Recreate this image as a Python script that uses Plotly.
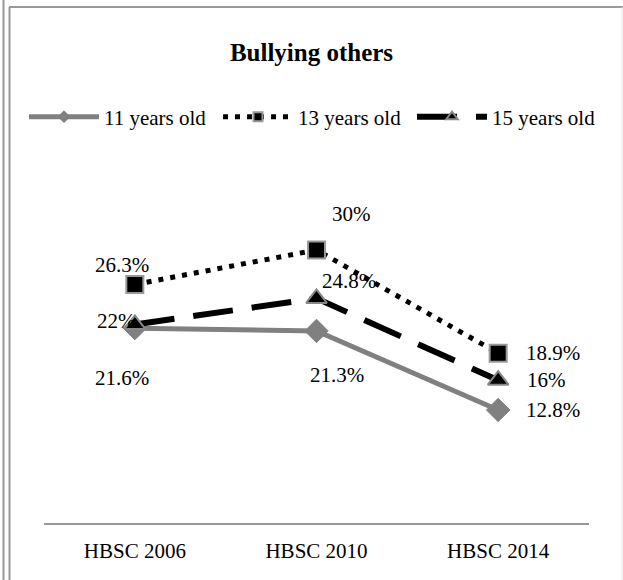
import plotly.graph_objects as go

categories = ["HBSC 2006", "HBSC 2010", "HBSC 2014"]
series_names = ["11 years old", "13 years old", "15 years old"]
age11 = [21.6, 21.3, 12.8]
age13 = [26.3, 30.0, 18.9]
age15 = [22.0, 24.8, 16.0]
labels11 = ["21.6%", "21.3%", "12.8%"]
labels13 = ["26.3%", "30%", "18.9%"]
labels15 = ["22%", "24.8%", "16%"]

FONT = "Liberation Serif, Times New Roman, serif"
W, H = 623, 580
L, R, T, B = 44, 34, 157, 57

styles = [
    dict(line=dict(color="#808080", width=5),
         marker=dict(symbol="diamond", color="#808080", line=dict(color="#808080", width=1)), size=18, lsize=9),
    dict(line=dict(color="#000000", width=5, dash="5px,7px"),
         marker=dict(symbol="square", color="#000000", line=dict(color="#999999", width=2)), size=17, lsize=9),
    dict(line=dict(color="#000000", width=6, dash="40px,19px"),
         marker=dict(symbol="triangle-up", color="#000000", line=dict(color="#888888", width=2)), size=18, lsize=10),
]

fig = go.Figure()
for name, vals, st in zip(series_names, [age11, age13, age15], styles):
    fig.add_trace(go.Scatter(
        x=categories, y=vals, name=name, mode="lines+markers", showlegend=False,
        line=st["line"], marker=dict(st["marker"], size=st["size"]),
    ))
for name, st in zip(series_names, styles):
    fig.add_trace(go.Scatter(
        x=[None], y=[None], name=name, mode="lines+markers", showlegend=True,
        line=st["line"], marker=dict(st["marker"], size=st["lsize"]),
    ))

# data labels (offsets in px relative to each point)
offs11 = [(-13, -50), (20, -44), (55, 0)]
offs13 = [(-13, 19), (35, 36), (55, 0)]
offs15 = [(-18, 3), (32, 17), (48, 0)]
for vals, labs, offs in [(age11, labels11, offs11), (age13, labels13, offs13), (age15, labels15, offs15)]:
    for c, v, t, (dx, dy) in zip(categories, vals, labs, offs):
        fig.add_annotation(x=c, y=v, text=t, showarrow=False, xshift=dx, yshift=dy,
                           font=dict(family=FONT, size=21, color="#000000"))

pw = W - L - R
ph = H - T - B
def px(xp):
    return (xp - L) / pw
def py(yp):
    return (H - B - yp) / ph

shapes = [
    dict(type="line", xref="paper", yref="paper", x0=px(3.5), x1=px(3.5), y0=py(0), y1=py(H),
         line=dict(color="#999999", width=2)),
    dict(type="line", xref="paper", yref="paper", x0=px(9.5), x1=px(9.5), y0=py(7), y1=py(H),
         line=dict(color="#999999", width=2)),
    dict(type="line", xref="paper", yref="paper", x0=px(9), x1=px(W), y0=py(7), y1=py(7),
         line=dict(color="#999999", width=2)),
    dict(type="line", xref="paper", yref="paper", x0=px(622), x1=px(622), y0=py(7), y1=py(H),
         line=dict(color="#e6e6e6", width=1)),
]

fig.update_layout(
    width=W, height=H,
    margin=dict(l=L, r=R, t=T, b=B, pad=0, autoexpand=False),
    paper_bgcolor="#ffffff", plot_bgcolor="#ffffff",
    font=dict(family=FONT, size=21, color="#000000"),
    title=dict(text="<b>Bullying others</b>", x=0.5, xanchor="center", y=1 - 52 / H, yanchor="middle",
               font=dict(family=FONT, size=25, color="#000000")),
    showlegend=True,
    legend=dict(orientation="h", xref="paper", x=px(24), xanchor="left",
                yref="paper", y=py(117), yanchor="middle",
                font=dict(family=FONT, size=21, color="#000000"), itemwidth=70,
                entrywidth=109, entrywidthmode="pixels",
                tracegroupgap=0, bgcolor="rgba(0,0,0,0)"),
    xaxis=dict(range=[-0.5, 2.5], showline=True, linecolor="#999999", linewidth=2, showgrid=False,
               zeroline=False, ticks="outside", ticklen=8, tickcolor="rgba(0,0,0,0)",
               tickfont=dict(family=FONT, size=21, color="#000000"), fixedrange=True),
    yaxis=dict(range=[0.65, 40], visible=False, showgrid=False, zeroline=False),
    shapes=shapes,
)

fig.write_html("out.html")
